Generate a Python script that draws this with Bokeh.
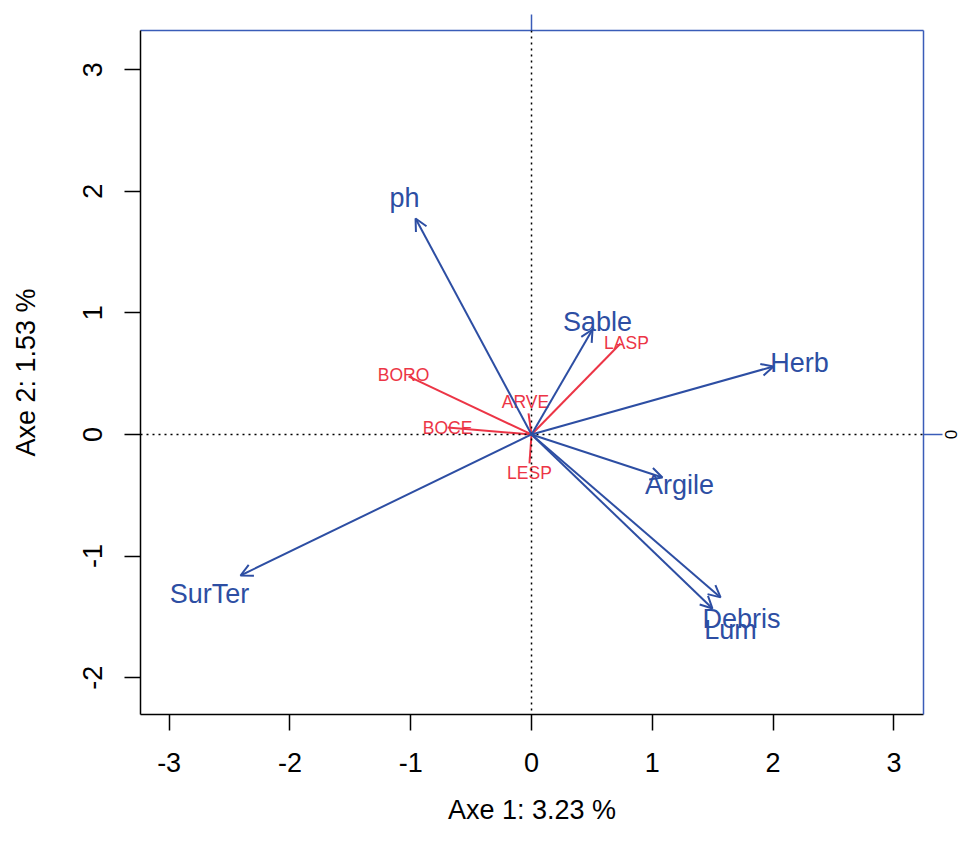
import math
from bokeh.plotting import figure
from bokeh.models import (ColumnDataSource, Arrow, OpenHead, Span, LinearAxis,
                          FixedTicker, Range1d)
from bokeh.core.properties import value
from bokeh.embed import file_html
from bokeh.resources import INLINE

# ---- data ----
env_names = ["ph", "Sable", "Herb", "Argile", "Debris", "Lum", "SurTer"]
env_x = [-0.960, 0.505, 2.003, 1.084, 1.565, 1.498, -2.409]
env_y = [1.776, 0.863, 0.559, -0.354, -1.340, -1.431, -1.160]
env_lab_x = [-1.051, 0.546, 2.219, 1.225, 1.738, 1.647, -2.666]
env_lab_y = [1.941, 0.921, 0.584, -0.419, -1.521, -1.612, -1.308]

sp_names = ["BORO", "BOCE", "ARVE", "LASP", "LESP"]
sp_x = [-1.018, -0.695, -0.025, 0.737, -0.017]
sp_y = [0.477, 0.058, 0.173, 0.748, -0.238]
sp_lab_x = [-1.060, -0.695, -0.050, 0.786, -0.017]
sp_lab_y = [0.485, 0.049, 0.263, 0.748, -0.321]

x_ticks = [-3, -2, -1, 0, 1, 2, 3]
y_ticks = [-2, -1, 0, 1, 2, 3]
x_title = "Axe 1: 3.23 %"
y_title = "Axe 2: 1.53 %"

BLUE = "#2d4ea3"
FRAME_BLUE = "#3a5cb8"
RED = "#ec3546"
AXFONT = "Liberation Sans"

p = figure(width=964, height=835, output_backend="svg", toolbar_location=None,
           x_range=Range1d(-3.237, 3.245), y_range=Range1d(-2.303, 3.322),
           x_axis_location=None, y_axis_location=None,
           min_border_left=140, min_border_right=41,
           min_border_top=30, min_border_bottom=121)
p.grid.visible = False
p.outline_line_color = None
p.background_fill_color = "white"
p.border_fill_color = "white"

def style_axis(ax, color, tick_out):
    ax.axis_line_color = color
    ax.axis_line_width = 1.5
    ax.major_tick_line_color = color
    ax.major_tick_line_width = 1.5
    ax.major_tick_out = tick_out
    ax.major_tick_in = 0
    ax.minor_tick_line_color = None

def hyphen_labels(ticks):
    return {t: str(t) for t in ticks}

# bottom axis
bx = LinearAxis(ticker=FixedTicker(ticks=x_ticks), axis_label=x_title,
                major_label_overrides=hyphen_labels(x_ticks))
style_axis(bx, "black", 16)
bx.major_label_text_font = AXFONT
bx.major_label_text_font_size = "27px"
bx.major_label_text_color = "black"
bx.major_label_standoff = 22
bx.axis_label_text_font = AXFONT
bx.axis_label_text_font_size = "27px"
bx.axis_label_text_font_style = "normal"
bx.axis_label_text_color = "black"
bx.axis_label_standoff = 20
p.add_layout(bx, "below")

# left axis
ly = LinearAxis(ticker=FixedTicker(ticks=y_ticks), axis_label=y_title,
                major_label_overrides=hyphen_labels(y_ticks))
style_axis(ly, "black", 16)
ly.major_label_text_font = AXFONT
ly.major_label_text_font_size = "27px"
ly.major_label_text_color = "black"
ly.major_label_orientation = "vertical"
ly.major_label_standoff = 22
ly.axis_label_text_font = AXFONT
ly.axis_label_text_font_size = "27px"
ly.axis_label_text_font_style = "normal"
ly.axis_label_text_color = "black"
ly.axis_label_standoff = 40
p.add_layout(ly, "left")

# top and right axes (second scale), only the zero tick
tx = LinearAxis(ticker=FixedTicker(ticks=[0]), major_label_overrides={0: ""})
style_axis(tx, FRAME_BLUE, 16)
tx.major_label_standoff = 0
p.add_layout(tx, "above")

ry = LinearAxis(ticker=FixedTicker(ticks=[0]))
style_axis(ry, FRAME_BLUE, 19)
ry.major_label_standoff = 2
ry.major_label_orientation = "vertical"
ry.major_label_text_font = AXFONT
ry.major_label_text_font_size = "17px"
ry.major_label_text_color = "black"
p.add_layout(ry, "right")

# dotted zero lines
for dim in ("height", "width"):
    p.add_layout(Span(location=0, dimension=dim, line_color="black",
                      line_dash="2 4", line_width=1.5))

# species (red) segments
sp_src = ColumnDataSource(dict(x0=[0] * len(sp_x), y0=[0] * len(sp_y),
                               x=sp_x, y=sp_y, lx=sp_lab_x, ly=sp_lab_y,
                               name=sp_names))
p.segment(x0="x0", y0="y0", x1="x", y1="y", source=sp_src,
          line_color=RED, line_width=2)

# environmental (blue) arrows
env_src = ColumnDataSource(dict(x0=[0] * len(env_x), y0=[0] * len(env_y),
                                x=env_x, y=env_y, lx=env_lab_x, ly=env_lab_y,
                                name=env_names))
p.add_layout(Arrow(end=OpenHead(size=12, line_color=BLUE, line_width=2),
                   x_start="x0", y_start="y0", x_end="x", y_end="y",
                   source=env_src, line_color=BLUE, line_width=2))

p.text(x="lx", y="ly", text="name", source=sp_src, text_color=RED,
       text_font=value("Liberation Sans"), text_font_size="17.5px",
       text_align="center", text_baseline="middle")
p.text(x="lx", y="ly", text="name", source=env_src, text_color=BLUE,
       text_font=value("Liberation Sans"), text_font_size="27px",
       text_align="center", text_baseline="middle")

open("out.html", "w").write(file_html(p, INLINE))
